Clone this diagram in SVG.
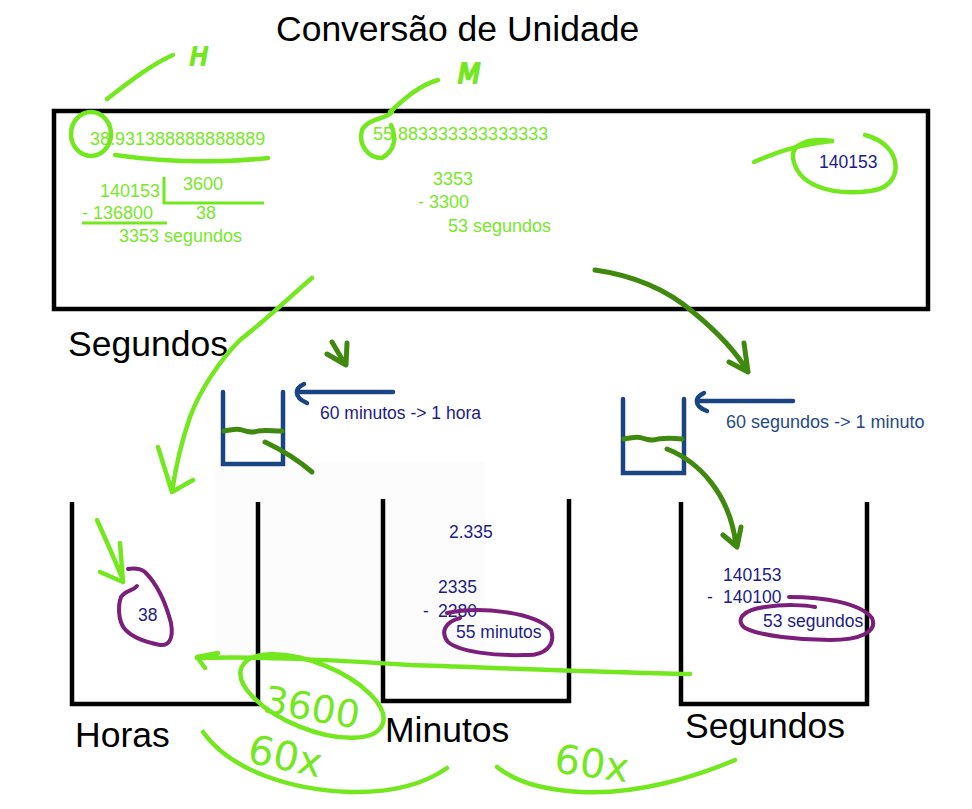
<svg xmlns="http://www.w3.org/2000/svg" width="972" height="809" viewBox="0 0 972 809">
<style>
.h{font-family:"Liberation Sans",Arial,sans-serif;font-size:35.5px;fill:#000}
.g{font-family:"Liberation Sans",Arial,sans-serif;font-size:18px;fill:#78e82a}
.n{font-family:"Liberation Sans",Arial,sans-serif;font-size:17.5px;fill:#1c1c86}
.b{font-family:"Liberation Sans",Arial,sans-serif;font-size:18px;fill:#1f4a86}
.hw{font-family:"DejaVu Sans",sans-serif;fill:#74e81f}
.hb{stroke:#74e81f;stroke-width:2;stroke-linejoin:round}
.box{fill:none;stroke:#000;stroke-width:4.5}
.lime{fill:none;stroke:#74e81f;stroke-width:4.5;stroke-linecap:round;stroke-linejoin:round}
.lime3{fill:none;stroke:#74e81f;stroke-width:3;stroke-linecap:butt}
.dg{fill:none;stroke:#3f8a0e;stroke-width:5;stroke-linecap:round;stroke-linejoin:round}
.bl{fill:none;stroke:#1a4482;stroke-width:4.5;stroke-linecap:round}
.pu{fill:none;stroke:#7b1f7b;stroke-width:4;stroke-linecap:round;stroke-linejoin:round}
</style>
<rect width="972" height="809" fill="#fff"/>
<rect x="215" y="462" width="270" height="200" fill="#fcfcfc"/>

<g id="title"><text class="h" x="276" y="41" font-size="36">Conversão de Unidade</text></g>

<g id="segundos-top">
<rect class="box" x="54" y="111" width="874" height="198"/>
<text class="h" x="68" y="356">Segundos</text>
<text class="g" x="90" y="145" font-size="19">38.931388888888889</text>
<text class="g" x="100" y="197">140153</text>
<path class="lime3" d="M164,177 V203 H264 M82,223 H167"/>
<text class="g" x="183" y="190" font-size="16">3600</text>
<text class="g" x="82" y="219" font-size="19">- 136800</text>
<text class="g" x="196" y="219" font-size="16">38</text>
<text class="g" x="119" y="242" font-size="17.5">3353 segundos</text>
<text class="g" x="373" y="140" font-size="19">55.883333333333333</text>
<text class="g" x="433" y="185">3353</text>
<text class="g" x="418" y="208">- 3300</text>
<text class="g" x="448" y="232">53 segundos</text>
<text class="n" x="819" y="168">140153</text>
</g>

<g id="container-horas">
<path class="box" d="M72,502 V704 H258 V502"/>
<text class="h" x="75" y="747">Horas</text>
<text class="n" x="138" y="621" font-size="16">38</text>
</g>

<g id="container-minutos">
<path class="box" d="M383,499 V701 H569 V499"/>
<text class="h" x="385" y="742">Minutos</text>
<text class="n" x="449" y="538">2.335</text>
<text class="n" x="438" y="593">2335</text>
<text class="n" x="423" y="617">-</text>
<text class="n" x="438" y="617">2280</text>
<text class="n" x="456" y="638">55 minutos</text>
</g>

<g id="container-segundos">
<path class="box" d="M681,502 V704 H867 V502"/>
<text class="h" x="685" y="738">Segundos</text>
<text class="n" x="723" y="581">140153</text>
<text class="n" x="707" y="603">-</text>
<text class="n" x="723" y="603">140100</text>
<text class="n" x="763" y="627">53 segundos</text>
</g>

<g id="bucket-horas">
<path class="bl" d="M223,392 V464 H283 V392" stroke-linecap="butt"/>
<path class="bl" d="M393,392 H298"/>
<path class="bl" d="M304,384 C295,388 293,397 307,403"/>
<text class="n" x="320" y="419" font-size="18">60 minutos -&gt; 1 hora</text>
</g>

<g id="bucket-minutos">
<path class="bl" d="M623,399 V473 H684 V399" stroke-linecap="butt"/>
<path class="bl" d="M793,401 H698"/>
<path class="bl" d="M704,393 C695,397 693,406 707,411"/>
<text class="b" x="726" y="428">60 segundos -&gt; 1 minuto</text>
</g>

<g id="connectors">
<path class="dg" stroke-width="4" d="M224,431 C232,430 236,428 242,430 C248,432 252,433 258,431 C266,430 272,431 282,431"/>
<path class="dg" stroke-width="4" d="M624,439 C632,438 636,436 642,438 C648,440 652,441 658,439 C666,438 672,438 682,439"/>
<path class="dg" d="M265,442 C282,450 298,460 312,472"/>
<path class="dg" d="M332,342 L345,364 M327,354 L346,365 L347,343"/>
<path class="dg" d="M667,449 C700,462 730,495 736,545 M723,535 L737,547 L741,527"/>
<path class="dg" d="M595,270 C630,275 665,288 693,312 C715,330 735,350 748,372 M729,362 L748,372 L744,343"/>
<path class="lime" d="M312,278 C295,292 272,315 240,340 C220,360 200,390 190,417 C182,440 176,465 172,492 M158,447 L172,492 L193,480"/>
<path class="lime" d="M97,520 C106,540 115,560 123,580 M100,572 L123,582 L120,543"/>
<ellipse class="lime" cx="91" cy="134" rx="20" ry="22"/>
<path class="lime" d="M115,155 C150,160 200,165 268,158"/>
<path class="lime" d="M107,99 C125,85 150,65 173,55"/>
<text class="hw hb" x="190" y="65" font-size="24" font-style="italic">H</text>
<path class="lime" d="M392,112 C385,120 368,118 362,130 C358,145 368,158 382,158 C395,150 397,138 391,125"/>
<path class="lime" d="M390,112 C405,98 420,85 438,80"/>
<text class="hw hb" x="458" y="83" font-size="26" font-style="italic">M</text>
<path class="lime" d="M865,135 C905,145 905,188 870,191 C830,196 797,185 793,158 C791,143 810,138 832,141"/>
<path class="lime" d="M754,162 C775,153 795,145 832,141"/>
<path class="pu" d="M128,569 C135,568 140,568 145,572 C155,582 165,600 171,623 C174,640 168,646 160,645 C145,642 130,636 124,628 C118,620 118,605 121,597 C126,590 133,591 137,586"/>
<path class="pu" d="M447,613 C480,606 535,612 551,630 C556,645 545,656 525,655 C495,656 460,652 448,642 C440,632 445,622 460,618"/>
<path class="pu" d="M789,597 C825,597 860,603 872,618 C878,632 860,640 830,640 C800,640 760,636 745,628 C735,620 742,610 765,607 C785,604 805,605 815,607"/>
<path class="lime" d="M690,674 C600,672 500,668 410,665 C330,660 260,656 197,658 M205,668 L197,657 L218,653"/>
<ellipse class="lime" cx="312" cy="696" rx="76" ry="33" transform="rotate(22 312 696)"/>
<text class="hw" x="262" y="712" font-size="38" transform="rotate(10 262 712)">3600</text>
<text class="hw" x="246" y="762" font-size="40" transform="rotate(12 246 762)">60x</text>
<path class="lime" d="M203,732 C230,770 290,790 350,792 C400,793 430,780 447,768"/>
<text class="hw" x="553" y="772" font-size="40" transform="rotate(8 553 772)">60x</text>
<path class="lime" d="M497,767 C520,785 550,790 580,792 C640,795 700,775 735,760"/>
</g>
</svg>
